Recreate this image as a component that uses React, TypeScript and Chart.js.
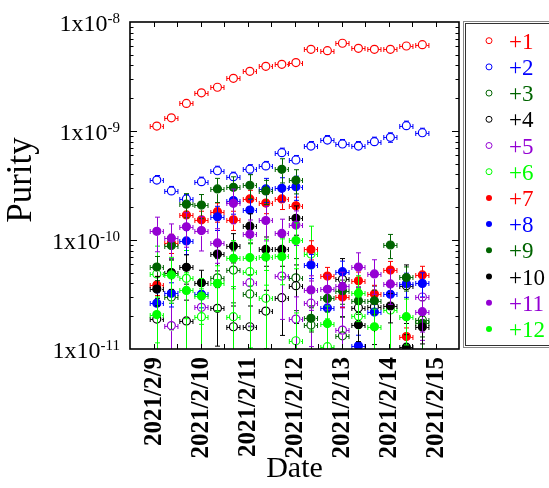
import React, { useEffect, useRef } from 'react';
import { Chart, registerables } from 'chart.js';

Chart.register(...registerables);

// Measurement times, days after 2021/2/9 00:00
const times = [0.07, 0.38, 0.7, 1.02, 1.36, 1.7, 2.05, 2.39, 2.73, 3.03, 3.35, 3.7, 4.02, 4.36, 4.7, 5.04, 5.38, 5.72];

const dateTickValues = [0, 1, 2, 3, 4, 5, 6];
const dateTickLabels = ['2021/2/9', '2021/2/10', '2021/2/11', '2021/2/12', '2021/2/13', '2021/2/14', '2021/2/15'];

const yTickValues = [1e-11, 1e-10, 1e-9, 1e-8];
const yTickExponents = ['-11', '-10', '-9', '-8'];

const seriesLabels = ['+1', '+2', '+3', '+4', '+5', '+6', '+7', '+8', '+9', '+10', '+11', '+12'];
const seriesColors = ['#ff0000', '#0000ff', '#006400', '#000000', '#9400d3', '#00ff00', '#ff0000', '#0000ff', '#006400', '#000000', '#9400d3', '#00ff00'];
const seriesFilled = [false, false, false, false, false, false, true, true, true, true, true, true];

const purity1 = [1.11e-9, 1.32e-9, 1.79e-9, 2.24e-9, 2.52e-9, 3.04e-9, 3.53e-9, 3.92e-9, 4.09e-9, 4.24e-9, 5.62e-9, 5.46e-9, 6.38e-9, 5.74e-9, 5.62e-9, 5.62e-9, 6.02e-9, 6.19e-9];
const purity2 = [3.55e-10, 2.82e-10, 2.38e-10, 3.43e-10, 4.32e-10, 3.81e-10, 4.46e-10, 4.78e-10, 6.33e-10, 5.42e-10, 7.28e-10, 8.26e-10, 7.6e-10, 7.28e-10, 7.98e-10, 8.75e-10, 1.12e-9, 9.64e-10];
const purity3 = [null, 3.0e-11, null, null, 4.5e-11, 5.3e-11, 3.2e-11, null, null, 4.5e-11, 1.66e-11, null, 1.32e-11, null, null, null, null, 1.85e-11];
const purity4 = [1.88e-11, null, 1.81e-11, null, 2.36e-11, 1.6e-11, 1.6e-11, 2.23e-11, 2.96e-11, 3.81e-11, null, null, 4.36e-11, 2.39e-11, 2.44e-11, null, 3.81e-11, null];
const purity5 = [null, 1.64e-11, null, 2.41e-11, null, null, 4.06e-11, null, 4.67e-11, 1.88e-11, 2.63e-11, null, 1.49e-11, null, null, null, null, 3.0e-11];
const purity6 = [4.88e-11, null, 4.45e-11, 1.98e-11, null, 1.98e-11, 5.12e-11, 2.92e-11, null, 1.19e-11, 7.44e-11, 1.05e-11, null, 2.0e-11, null, 2.28e-11, null, null];
const purity7 = [3.87e-11, 9.4e-11, 1.7e-10, 1.53e-10, 1.82e-10, 1.53e-10, 2.38e-10, 2.18e-10, 2.38e-10, 2.06e-10, 8.2e-11, 4.67e-11, 3.0e-11, 4.23e-11, 3.2e-11, 5.3e-11, 1.3e-11, 4.78e-11];
const purity8 = [2.63e-11, 3.24e-11, 9.8e-11, 3.18e-11, 1.63e-10, 2.3e-10, 1.88e-10, 2.94e-10, 2.98e-10, 3.08e-10, 5.9e-11, 2.38e-11, 5.12e-11, 1.07e-11, 2.18e-11, 3.18e-11, 3.97e-11, 4.0e-11];
const purity9 = [5.65e-11, 8.9e-11, 2.13e-10, 2.09e-10, 2.94e-10, 3.04e-10, 3.18e-10, 2.82e-10, 4.45e-10, 3.53e-10, 1.91e-11, 2.91e-11, 3.43e-11, 2.77e-11, 2.77e-11, 9.0e-11, 4.53e-11, 1.72e-11];
const purity10 = [3.55e-11, 5.03e-11, 5.62e-11, 4.06e-11, 7.44e-11, 8.8e-11, 1.34e-10, 8.2e-11, 8.2e-11, 1.58e-10, null, null, null, 1.67e-11, null, 2.48e-11, 1.04e-11, 1.59e-11];
const purity11 = [1.2e-10, 1.04e-10, 1.32e-10, 1.22e-10, 9.4e-11, 2.17e-10, 1.13e-10, 1.51e-10, 1.15e-10, 1.37e-10, 3.48e-11, 3.53e-11, 3.75e-11, 5.65e-11, 4.88e-11, 3.95e-11, null, 2.2e-11];
const purity12 = [2.07e-11, 4.78e-11, 3.45e-11, 3.06e-11, 4.0e-11, 6.8e-11, 6.9e-11, 7.0e-11, 7.06e-11, 9.9e-11, null, 1.71e-11, null, 3.24e-11, 1.6e-11, null, 1.98e-11, null];

const allSeries = [purity1, purity2, purity3, purity4, purity5, purity6, purity7, purity8, purity9, purity10, purity11, purity12];

// relative vertical uncertainty of each series, and horizontal (time) half-width in days
const relErr = [0.03, 0.1, 0.5, 0.55, 0.6, 0.8, 0.2, 0.25, 0.25, 0.3, 0.35, 0.45];
const xErrDays = 0.14;

const SERIF = '"Liberation Serif", "Times New Roman", serif';

const errorBarPlugin = {
  id: 'errorBars',
  beforeDatasetDraw(chart: any, args: any) {
    const ds = chart.data.datasets[args.index];
    const { ctx, chartArea: a } = chart;
    const xs = chart.scales.x;
    const ys = chart.scales.y;
    const r = ds.pointRadius + 0.6;
    const f = ds.relErr;
    ctx.save();
    ctx.beginPath();
    ctx.rect(a.left, a.top, a.right - a.left, a.bottom - a.top);
    ctx.clip();
    ctx.strokeStyle = ds.borderColor;
    ctx.lineWidth = 1;
    ctx.beginPath();
    for (const p of ds.data) {
      const px = Math.round(xs.getPixelForValue(p.x)) + 0.5;
      const py = Math.round(ys.getPixelForValue(p.y)) + 0.5;
      const xl = xs.getPixelForValue(p.x - xErrDays);
      const xr = xs.getPixelForValue(p.x + xErrDays);
      const yt = ys.getPixelForValue(p.y * (1 + f));
      const lo = p.y * (1 - f);
      const yb = lo > 0 ? ys.getPixelForValue(lo) : a.bottom + 10;
      ctx.moveTo(xl, py); ctx.lineTo(px - r, py);
      ctx.moveTo(px + r, py); ctx.lineTo(xr, py);
      ctx.moveTo(xl, py - 2.5); ctx.lineTo(xl, py + 2.5);
      ctx.moveTo(xr, py - 2.5); ctx.lineTo(xr, py + 2.5);
      if (yt < py - r) {
        ctx.moveTo(px, py - r); ctx.lineTo(px, yt);
        ctx.moveTo(px - 2.5, yt); ctx.lineTo(px + 2.5, yt);
      }
      if (yb > py + r) {
        ctx.moveTo(px, py + r); ctx.lineTo(px, yb);
        ctx.moveTo(px - 2.5, yb); ctx.lineTo(px + 2.5, yb);
      }
    }
    ctx.stroke();
    ctx.restore();
  },
};

const framePlugin = {
  id: 'frameTicksLegend',
  afterDraw(chart: any) {
    const { ctx, chartArea: a } = chart;
    const xs = chart.scales.x;
    const ys = chart.scales.y;
    ctx.save();
    // inward ticks
    ctx.strokeStyle = '#000';
    ctx.lineWidth = 1;
    ctx.beginPath();
    for (const t of xs.ticks) {
      const px = Math.round(xs.getPixelForValue(t.value)) + 0.5;
      if (px <= a.left + 1 || px >= a.right - 1) continue;
      ctx.moveTo(px, a.bottom); ctx.lineTo(px, a.bottom - 5);
      ctx.moveTo(px, a.top); ctx.lineTo(px, a.top + 5);
    }
    for (let e = -11; e <= -9; e++) {
      for (let m = 1; m <= 9; m++) {
        const v = m * Math.pow(10, e);
        const py = Math.round(ys.getPixelForValue(v)) + 0.5;
        if (py >= a.bottom - 1 || py <= a.top + 1) continue;
        const len = m === 1 ? 7 : 3.5;
        ctx.moveTo(a.left, py); ctx.lineTo(a.left + len, py);
        ctx.moveTo(a.right, py); ctx.lineTo(a.right - len, py);
      }
    }
    ctx.stroke();
    // frame
    ctx.lineWidth = 1.6;
    ctx.strokeRect(a.left, a.top, a.right - a.left, a.bottom - a.top);

    // y tick labels 1x10^n
    ctx.fillStyle = '#000';
    ctx.textBaseline = 'alphabetic';
    yTickValues.forEach((v, i) => {
      const py = ys.getPixelForValue(v);
      const rightX = a.left - 10;
      ctx.font = `15px ${SERIF}`;
      const ew = ctx.measureText(yTickExponents[i]).width;
      ctx.textAlign = 'left';
      ctx.fillText(yTickExponents[i], rightX - ew, py + 0.5);
      ctx.font = `24px ${SERIF}`;
      ctx.textAlign = 'right';
      ctx.fillText('1x10', rightX - ew, py + 9);
    });

    // x tick labels (rotated, end of text next to the axis)
    ctx.font = `bold 25px ${SERIF}`;
    ctx.textAlign = 'right';
    ctx.textBaseline = 'middle';
    dateTickValues.forEach((v, i) => {
      const px = xs.getPixelForValue(v);
      ctx.save();
      ctx.translate(px + 1.5, a.bottom + 8);
      ctx.rotate(-Math.PI / 2);
      ctx.fillText(dateTickLabels[i], 0, 0);
      ctx.restore();
    });

    // y axis title
    ctx.save();
    ctx.font = `35px ${SERIF}`;
    ctx.textAlign = 'center';
    ctx.textBaseline = 'middle';
    ctx.translate(22, 180);
    ctx.rotate(-Math.PI / 2);
    ctx.fillText('Purity', 0, 0);
    ctx.restore();

    // legend
    const bx = a.right + 5;
    ctx.lineWidth = 1;
    ctx.strokeStyle = '#888';
    ctx.strokeRect(bx - 0.5, a.top - 0.5, 200, a.bottom - a.top - 1);
    ctx.strokeStyle = '#333';
    ctx.strokeRect(bx + 1.5, a.top + 1.5, 200, a.bottom - a.top - 5);
    ctx.textBaseline = 'alphabetic';
    chart.data.datasets.forEach((ds: any, i: number) => {
      const cy = a.top + 18.7 + i * 26.2;
      const mx = bx + 25;
      ctx.beginPath();
      ctx.arc(mx, cy, 3, 0, Math.PI * 2);
      if (seriesFilled[i]) {
        ctx.fillStyle = ds.borderColor;
        ctx.fill();
      } else {
        ctx.strokeStyle = ds.borderColor;
        ctx.lineWidth = 1;
        ctx.stroke();
      }
      ctx.fillStyle = ds.borderColor;
      ctx.font = `23px ${SERIF}`;
      ctx.textAlign = 'left';
      ctx.fillText(ds.label, bx + 45, cy + 8);
    });
    ctx.restore();
  },
};

export default function App() {
  const ref = useRef<HTMLCanvasElement | null>(null);
  useEffect(() => {
    document.body.style.margin = '0';
    const canvas = ref.current;
    if (!canvas) return;
    const datasets = seriesLabels.map((label, i) => ({
      label,
      data: times
        .map((t, j) => ({ x: t, y: allSeries[i][j] }))
        .filter((p) => p.y !== null && p.y !== undefined),
      borderColor: seriesColors[i],
      backgroundColor: seriesFilled[i] ? seriesColors[i] : 'rgba(0,0,0,0)',
      pointRadius: 4,
      pointHoverRadius: 4,
      pointBorderWidth: 1.2,
      showLine: false,
      order: 12 - i,
      relErr: relErr[i],
    }));
    const chart = new Chart(canvas, {
      type: 'scatter',
      data: { datasets } as any,
      options: {
        animation: false,
        responsive: false,
        events: [],
        layout: { padding: { top: 22, right: 90, left: 0, bottom: 0 } },
        plugins: {
          legend: { display: false },
          tooltip: { enabled: false },
        },
        scales: {
          x: {
            type: 'linear',
            min: -0.5,
            max: 6.5,
            grid: { display: false },
            border: { display: false },
            ticks: { stepSize: 0.5, autoSkip: false, display: false },
            title: {
              display: true,
              text: 'Date',
              color: '#000',
              font: { family: SERIF, size: 30 },
              padding: { top: 0, bottom: 1 },
            },
            afterFit: (s: any) => { s.height = 139; },
          },
          y: {
            type: 'logarithmic',
            min: 1e-11,
            max: 1e-8,
            grid: { display: false },
            border: { display: false },
            ticks: { display: false },
            title: { display: false, text: 'Purity' },
            afterFit: (s: any) => { s.width = 130; },
          },
        },
      },
      plugins: [errorBarPlugin, framePlugin],
    } as any);
    return () => chart.destroy();
  }, []);
  return <canvas ref={ref} width={549} height={488} style={{ display: 'block' }} />;
}
